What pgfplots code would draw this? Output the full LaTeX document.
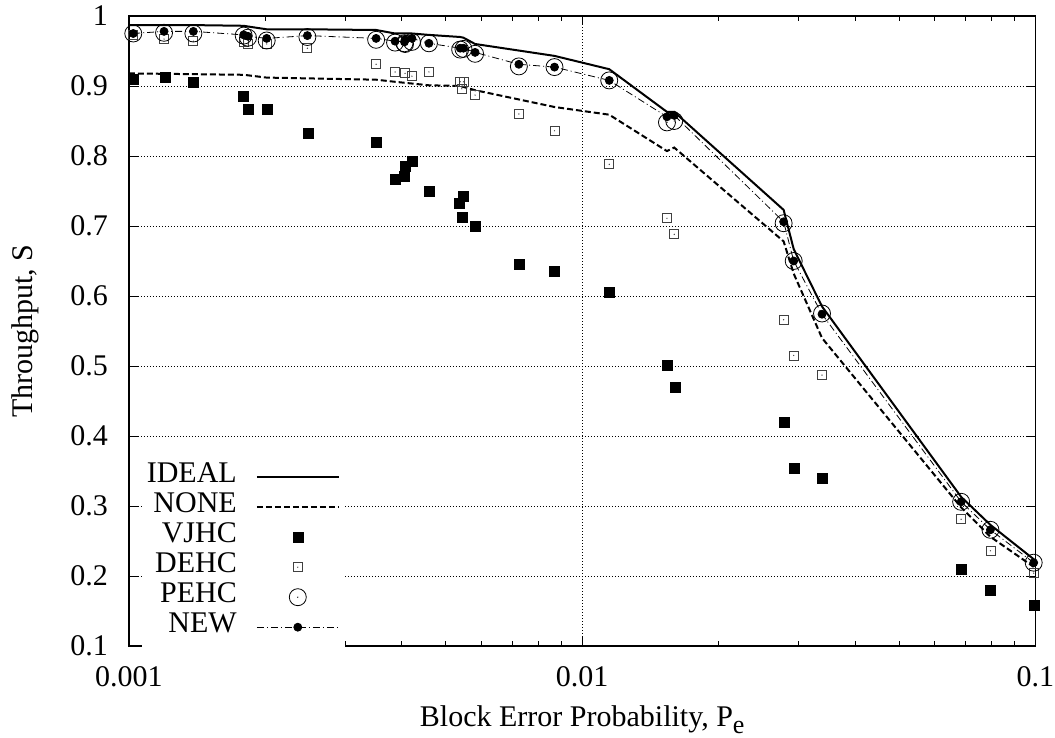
\documentclass[border=0pt]{standalone}
\usepackage{fontspec}
\setmainfont{Liberation Serif}
\usepackage{pgfplots}
\pgfplotsset{compat=1.18}

% open square and open circle, each with a small dot in the centre
\pgfdeclareplotmark{dsquare}{%
  \pgfpathrectangle{\pgfpoint{-\pgfplotmarksize}{-\pgfplotmarksize}}{\pgfpoint{2\pgfplotmarksize}{2\pgfplotmarksize}}%
  \pgfusepathqstroke
  \pgfpathcircle{\pgfpointorigin}{0.7pt}%
  \pgfusepathqfill}
\pgfdeclareplotmark{dcircle}{%
  \pgfpathcircle{\pgfpointorigin}{\pgfplotmarksize}%
  \pgfusepathqstroke
  \pgfpathcircle{\pgfpointorigin}{0.7pt}%
  \pgfusepathqfill}

\newcommand\bigfont{\fontsize{30}{30}\selectfont}

\begin{document}
\begin{tikzpicture}
\begin{axis}[
  name=ax,
  scale only axis,
  width=906.5pt, height=630pt,
  xmode=log,
  xmin=0.001, xmax=0.1,
  ymin=0.1, ymax=1,
  xtick={0.001,0.01,0.1},
  xticklabels={0.001,0.01,0.1},
  ytick={0.1,0.2,0.3,0.4,0.5,0.6,0.7,0.8,0.9,1},
  yticklabels={0.1,0.2,0.3,0.4,0.5,0.6,0.7,0.8,0.9,1},
  /pgf/number format/assume math mode=true,
  tick align=inside,
  major tick length=9pt,
  minor tick length=5pt,
  tick style={black, line width=0.9pt},
  axis line style={line width=1.2pt},
  grid=major,
  major grid style={black, line width=0.8pt, dash pattern=on 0.8pt off 2.2pt},
  tick label style={font=\bigfont, inner sep=0pt},
  xticklabel style={anchor=base, yshift=-41pt},
  yticklabel style={anchor=east, xshift=-21pt},
  xlabel={Block Error Probability, P\raisebox{-7pt}{\fontsize{26}{26}\selectfont e}},
  ylabel={Throughput, S},
  label style={font=\bigfont},
  xlabel style={at={(axis description cs:0.5,0)}, anchor=base, yshift=-81pt},
  ylabel style={at={(axis description cs:-0.1147,0.5)}, anchor=center, rotate=0},
  clip=false,
  legend plot pos=right,
  legend cell align=right,
  legend image code/.code={\draw[mark repeat=2,mark phase=2,#1] plot coordinates {(0pt,0pt) (41pt,0pt) (82pt,0pt)};},
  legend style={at={(axis description cs:0.2383,0.300)}, anchor=north east,
    draw=none, fill=white, inner sep=5pt, row sep=0pt, column sep=19pt,
    font=\bigfont,
    nodes={inner sep=0pt, text height=20pt, text depth=10pt}},
]

% IDEAL
\addplot[black, line width=2pt, no marks] table {
x y
0.001 0.987
0.001387 0.987
0.001791 0.986
0.001831 0.985
0.002013 0.981
0.002475 0.981
0.003510 0.980
0.003865 0.975
0.004210 0.975
0.004590 0.973
0.005379 0.970
0.005470 0.969
0.005803 0.960
0.008686 0.943
0.01147 0.924
0.01538 0.863
0.01596 0.863
0.02782 0.723
0.02928 0.667
0.03381 0.585
0.06855 0.313
0.07956 0.273
0.0991 0.224
};
\addlegendentry{IDEAL}

% NONE
\addplot[black, line width=2pt, dash pattern=on 6pt off 3pt, no marks] table {
x y
0.001 0.918
0.001791 0.916
0.002013 0.912
0.003510 0.909
0.003865 0.906
0.004590 0.901
0.005379 0.900
0.005803 0.894
0.008686 0.870
0.01147 0.859
0.01538 0.807
0.01596 0.812
0.02782 0.678
0.02928 0.632
0.03381 0.540
0.06855 0.298
0.07956 0.256
0.0991 0.213
};
\addlegendentry{NONE}

% VJHC
\addplot[only marks, mark=square*, mark size=5pt, black] table {
x y
0.001022 0.910
0.001201 0.912
0.001387 0.906
0.001791 0.885
0.001831 0.867
0.002016 0.867
0.002480 0.833
0.003504 0.820
0.003865 0.767
0.004053 0.771
0.004066 0.785
0.004210 0.793
0.004590 0.750
0.005361 0.733
0.005470 0.742
0.005425 0.713
0.005803 0.700
0.007248 0.646
0.008675 0.635
0.01147 0.605
0.01538 0.501
0.01602 0.469
0.02788 0.419
0.02928 0.354
0.03381 0.339
0.06855 0.209
0.07956 0.179
0.0991 0.158
};
\addlegendentry{VJHC}

% DEHC
\addplot[only marks, mark=dsquare, mark size=4.5pt, black!75, line width=0.8pt] table {
x y
0.001022 0.973
0.001195 0.967
0.001387 0.964
0.001791 0.963
0.001831 0.960
0.002013 0.960
0.002475 0.954
0.003510 0.931
0.003865 0.920
0.004066 0.918
0.004210 0.914
0.004590 0.920
0.005379 0.906
0.005470 0.906
0.005425 0.896
0.005803 0.887
0.007248 0.860
0.008686 0.836
0.01147 0.788
0.01538 0.711
0.01596 0.688
0.02782 0.566
0.02928 0.515
0.03381 0.487
0.06855 0.281
0.07956 0.236
0.0991 0.204
};
\addlegendentry{DEHC}

% PEHC
\addplot[only marks, mark=dcircle, mark size=8.5pt, black, line width=0.8pt] table {
x y
0.001022 0.975
0.001195 0.976
0.001387 0.975
0.001791 0.972
0.001831 0.969
0.002013 0.965
0.002475 0.970
0.003510 0.966
0.003865 0.962
0.004053 0.961
0.004066 0.960
0.004210 0.963
0.004590 0.961
0.005379 0.952
0.005470 0.953
0.005803 0.946
0.007248 0.928
0.008686 0.927
0.01147 0.908
0.01538 0.848
0.01596 0.850
0.02782 0.704
0.02928 0.650
0.03381 0.575
0.06855 0.306
0.07956 0.266
0.0991 0.219
};
\addlegendentry{PEHC}

% NEW
\addplot[black, line width=0.8pt, dash pattern=on 7pt off 3pt on 1pt off 3pt,
  mark=*, mark size=4pt, mark options={solid}] table {
x y
0.001022 0.975
0.001195 0.978
0.001387 0.978
0.001791 0.973
0.001831 0.971
0.002013 0.968
0.002475 0.972
0.003510 0.968
0.003865 0.964
0.004053 0.963
0.004066 0.966
0.004210 0.968
0.004590 0.961
0.005379 0.954
0.005470 0.954
0.005803 0.948
0.007248 0.931
0.008686 0.927
0.01147 0.908
0.01538 0.856
0.01596 0.858
0.02782 0.706
0.02928 0.650
0.03381 0.574
0.06855 0.306
0.07956 0.266
0.0991 0.219
};
\addlegendentry{NEW}

\end{axis}
\pgfresetboundingbox
\path ([shift={(-129pt,-92pt)}]ax.south west) rectangle ([shift={(19.5pt,16pt)}]ax.north east);
\end{tikzpicture}
\end{document}
